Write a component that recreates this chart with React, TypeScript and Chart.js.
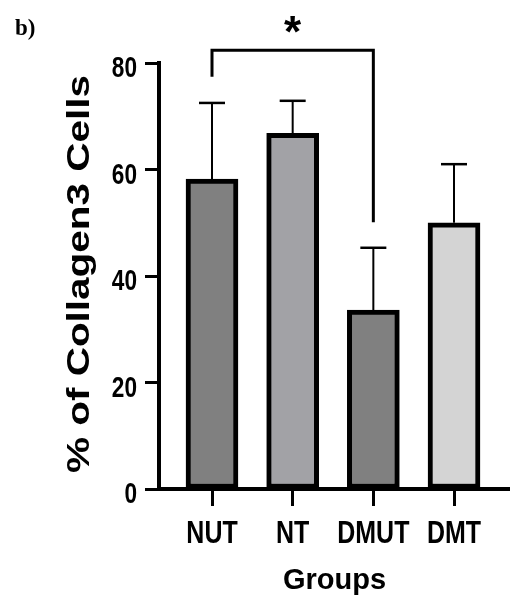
import { useEffect, useRef } from "react";
import { Chart, registerables } from "chart.js";

Chart.register(...registerables);

// ---- data ----
const categories = ["NUT", "NT", "DMUT", "DMT"];
const means = [58.2, 66.8, 33.6, 50.0];
const upperErrors = [14.3, 6.1, 11.7, 11.0];
const barFills = ["#808080", "#a2a2a6", "#808080", "#d4d4d4"];
const yTickValues = [0, 20, 40, 60, 80];
const sigPair = [0, 2];
const sigMark = "*";
const bracketTop = 82.4;
const bracketLegEnds = [77.4, 50.1];
const panelLabel = "b)";
const yTitle = "% of Collagen3 Cells";
const xTitle = "Groups";

const SANS = "'Liberation Sans', Arial, Helvetica, sans-serif";
const SQUEEZE = 0.78;

const annotations = {
  id: "annotations",
  afterDatasetsDraw(chart: any) {
    const ctx = chart.ctx;
    const xs = chart.scales.x;
    const ys = chart.scales.y;
    const meta = chart.getDatasetMeta(0);
    ctx.save();
    ctx.strokeStyle = "#000";
    ctx.fillStyle = "#000";
    // error bars (upper only)
    meta.data.forEach((bar: any, i: number) => {
      const x = bar.x;
      const yTop = bar.y;
      const yErr = ys.getPixelForValue(means[i] + upperErrors[i]);
      ctx.lineWidth = 2;
      ctx.beginPath();
      ctx.moveTo(x, yTop);
      ctx.lineTo(x, yErr);
      ctx.stroke();
      ctx.lineWidth = 2.5;
      ctx.beginPath();
      ctx.moveTo(x - 13, yErr);
      ctx.lineTo(x + 13, yErr);
      ctx.stroke();
    });
    // significance bracket
    const x0 = xs.getPixelForValue(sigPair[0] + 1);
    const x1 = xs.getPixelForValue(sigPair[1] + 1);
    const yb = ys.getPixelForValue(bracketTop);
    ctx.lineWidth = 3;
    ctx.beginPath();
    ctx.moveTo(x0, ys.getPixelForValue(bracketLegEnds[0]));
    ctx.lineTo(x0, yb);
    ctx.lineTo(x1, yb);
    ctx.lineTo(x1, ys.getPixelForValue(bracketLegEnds[1]));
    ctx.stroke();
    // star
    ctx.font = `bold 44px ${SANS}`;
    ctx.textAlign = "center";
    ctx.textBaseline = "alphabetic";
    const m = ctx.measureText(sigMark);
    const a = m.actualBoundingBoxAscent;
    const d = m.actualBoundingBoxDescent;
    const cy = yb - 26;
    ctx.fillText(sigMark, (x0 + x1) / 2, cy + (a - d) / 2);
    ctx.restore();
  },
  afterDraw(chart: any) {
    const ctx = chart.ctx;
    const xs = chart.scales.x;
    const ys = chart.scales.y;
    ctx.save();
    ctx.fillStyle = "#000";
    ctx.textBaseline = "alphabetic";
    // x tick labels (condensed bold)
    ctx.font = `bold 32px ${SANS}`;
    ctx.textAlign = "center";
    xs.ticks.forEach((t: any) => {
      const label = categories[Math.round(t.value) - 1];
      if (!label) return;
      const x = xs.getPixelForValue(t.value);
      ctx.save();
      ctx.translate(x, xs.top + 54);
      ctx.scale(SQUEEZE, 1);
      ctx.fillText(label, 0, 0);
      ctx.restore();
    });
    // y tick labels (condensed bold)
    ctx.font = `bold 29px ${SANS}`;
    ctx.textAlign = "right";
    ys.ticks.forEach((t: any) => {
      const y = ys.getPixelForValue(t.value);
      ctx.save();
      ctx.translate(ys.right - 22, y + 14);
      ctx.scale(SQUEEZE, 1);
      ctx.fillText(String(t.value), 0, 0);
      ctx.restore();
    });
    // y title (rotated, stretched along text)
    ctx.font = `bold 31px ${SANS}`;
    ctx.textAlign = "center";
    const w = ctx.measureText(yTitle).width;
    ctx.save();
    ctx.translate(89, (ys.top + ys.bottom) / 2 - 2);
    ctx.rotate(-Math.PI / 2);
    ctx.scale(398 / w, 1);
    ctx.fillText(yTitle, 0, 0);
    ctx.restore();
    // panel label
    ctx.font = `bold 23px 'Liberation Serif', 'Times New Roman', serif`;
    ctx.textAlign = "left";
    ctx.fillText(panelLabel, 15, 35);
    ctx.restore();
  },
};

export default function App() {
  const ref = useRef<HTMLCanvasElement | null>(null);
  useEffect(() => {
    if (!ref.current) return;
    const chart = new Chart(ref.current, {
      type: "bar",
      data: {
        datasets: [
          {
            data: categories.map((_, i) => ({ x: i + 1, y: means[i] })),
            backgroundColor: barFills,
            borderColor: "#000",
            borderWidth: 5,
            borderSkipped: false,
            barThickness: 52,
          },
        ],
      },
      options: {
        responsive: false,
        animation: false,
        devicePixelRatio: 1,
        layout: { padding: { top: 63, left: 0, right: 0, bottom: 0 } },
        plugins: { legend: { display: false }, tooltip: { enabled: false } },
        scales: {
          x: {
            type: "linear",
            bounds: "data",
            offset: false,
            min: 0.343,
            max: 4.694,
            afterBuildTicks: (s: any) => {
              s.ticks = categories.map((_, i) => ({ value: i + 1 }));
            },
            ticks: { display: false, autoSkip: false },
            grid: { offset: false, drawOnChartArea: false, tickLength: 17, tickWidth: 3, tickColor: "#000" },
            border: { display: true, color: "#000", width: 4 },
            title: {
              display: true,
              text: xTitle,
              color: "#000",
              font: { family: SANS, weight: "bold", size: 29 },
              padding: { top: 0, bottom: 9 },
            },
            afterFit: (s: any) => {
              s.height = 118;
            },
          },
          y: {
            min: 0,
            max: 80,
            afterBuildTicks: (s: any) => {
              s.ticks = yTickValues.map((v) => ({ value: v }));
            },
            ticks: { display: false },
            grid: { drawOnChartArea: false, tickLength: 14, tickWidth: 3, tickColor: "#000" },
            border: { display: true, color: "#000", width: 4 },
            title: { display: false },
            afterFit: (s: any) => {
              s.width = 159;
            },
          },
        },
      },
      plugins: [annotations],
    });
    return () => chart.destroy();
  }, []);
  return (
    <div style={{ position: "absolute", left: 0, top: 0, width: 510, height: 607, background: "#fff" }}>
      <canvas ref={ref} width={510} height={607} />
    </div>
  );
}
